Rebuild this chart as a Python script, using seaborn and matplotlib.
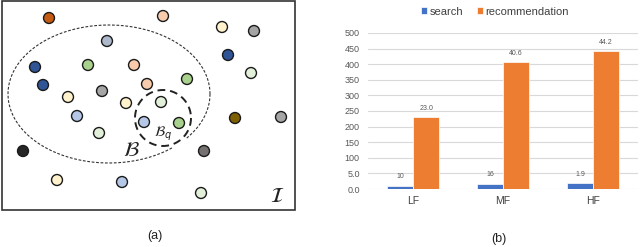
import numpy as np
import pandas as pd
import matplotlib
matplotlib.use("Agg")
import matplotlib.pyplot as plt
from matplotlib.patches import Rectangle
import seaborn as sns

# ---- panel (a): item points (pixel coords of the diagram) ----
point_x = [49, 163, 222, 254, 107, 228, 35, 88, 134, 251, 187, 43, 147, 102,
           68, 126, 161, 77, 144, 179, 235, 281, 99, 23, 204, 57, 122, 201]
point_y = [18, 16, 27, 31, 41, 55, 67, 65, 65, 73, 79, 85, 84, 91,
           97, 103, 102, 116, 122, 123, 118, 117, 133, 151, 151, 180, 182, 193]
point_kind = ["orange", "peach", "cream", "grey", "bluegrey", "navy", "navy", "green",
              "peach", "mint", "green", "navy", "peach", "grey", "cream", "cream",
              "mint", "lightblue", "lightblue", "green", "brown", "grey", "mint",
              "black", "darkgrey", "cream", "lightblue", "mint"]
kind_colors = {
    "orange": "#C55A11", "peach": "#F8CBAD", "cream": "#FFF2CC", "grey": "#A5A5A5",
    "bluegrey": "#ADB9CA", "navy": "#2F5597", "green": "#A9D18E", "mint": "#E2F0D9",
    "lightblue": "#B4C7E7", "brown": "#7F6000", "black": "#262626", "darkgrey": "#767171",
}

# ---- panel (b): bar chart ----
categories = ["LF", "MF", "HF"]
search_vals = [1.0, 1.6, 1.9]
rec_vals = [23.0, 40.6, 44.2]
search_labels = ["10", "16", "1.9"]
rec_labels = ["23.0", "40.6", "44.2"]
ytick_vals = [0, 5, 10, 15, 20, 25, 30, 35, 40, 45, 50]
ytick_labels = ["0.0", "5.0", "100", "150", "200", "250", "300", "350", "400", "450", "500"]

sns.set_style("white")
plt.rcParams["font.family"] = ["Liberation Sans", "DejaVu Sans"]

fig = plt.figure(figsize=(6.4, 2.47), dpi=100)

# panel (a)
ax_a = fig.add_axes([0, 0, 300 / 640, 1])
ax_a.set_xlim(0, 300)
ax_a.set_ylim(247, 0)
ax_a.axis("off")
ax_a.add_patch(Rectangle((2, 1.5), 293, 208.5, fill=False, edgecolor="#333333", lw=1.2))

# big dashed region B, skipping the part that runs into B_q
t = np.linspace(0, 2 * np.pi, 400)
ex = 109 + 101 * np.cos(t)
ey = 94 + 69 * np.sin(t)
far = np.hypot(ex - 163, ey - 118) > 31
ex = np.where(far, ex, np.nan)
ey = np.where(far, ey, np.nan)
ax_a.plot(ex, ey, color="#333333", lw=0.8, ls=(0, (2.5, 1.5)))

# small dashed region B_q
ts = np.linspace(0, 2 * np.pi, 200)
ax_a.plot(163 + 28 * np.cos(ts), 118 + 28 * np.sin(ts), color="#222222",
          lw=1.4, ls=(0, (4, 2.5)))

pts = pd.DataFrame({"x": point_x, "y": point_y, "kind": point_kind})
sns.scatterplot(data=pts, x="x", y="y", hue="kind", palette=kind_colors, s=62,
                edgecolor="#1a1a1a", linewidth=1.0, legend=False, ax=ax_a, zorder=3)
ax_a.set_xlabel("")
ax_a.set_ylabel("")

ax_a.text(131, 150, r"$\mathcal{B}$", fontsize=15, ha="center", va="center", color="#222222")
ax_a.text(163, 134, r"$\mathcal{B}_q$", fontsize=10, ha="center", va="center", color="#222222")
ax_a.text(277, 196, r"$\mathcal{I}$", fontsize=15, ha="center", va="center", color="#222222")
ax_a.text(155, 236, "(a)", fontsize=9, ha="center", va="center", color="#222222")

# panel (b)
ax_b = fig.add_axes([368 / 640, (247 - 189) / 247, 270 / 640, (189 - 33) / 247])
df = pd.DataFrame({
    "category": categories * 2,
    "value": search_vals + rec_vals,
    "series": ["search"] * 3 + ["recommendation"] * 3,
})
sns.barplot(data=df, x="category", y="value", hue="series",
            palette={"search": "#4472C4", "recommendation": "#ED7D31"},
            saturation=1, width=0.58, edgecolor="white", linewidth=0.5,
            ax=ax_b, zorder=3)
ax_b.set_ylim(0, 50)
ax_b.set_xlim(-0.5, 2.5)
ax_b.set_yticks(ytick_vals)
ax_b.set_yticklabels(ytick_labels)
ax_b.yaxis.grid(True, color="#D9D9D9", lw=0.8)
ax_b.set_axisbelow(True)
sns.despine(ax=ax_b, left=True, bottom=True)
ax_b.tick_params(axis="y", length=0, labelsize=6.5, labelcolor="#595959", pad=6)
ax_b.tick_params(axis="x", length=0, labelsize=7.5, labelcolor="#404040", pad=5)
ax_b.set_xlabel("")
ax_b.set_ylabel("")

ax_b.bar_label(ax_b.containers[0], labels=search_labels, fontsize=5, color="#595959", padding=4)
ax_b.bar_label(ax_b.containers[1], labels=rec_labels, fontsize=5, color="#595959", padding=4)

handles, labels = ax_b.get_legend_handles_labels()
ax_b.legend(handles, labels, loc="lower center", bbox_to_anchor=(0.47, 1.04), ncol=2,
            frameon=False, fontsize=8, handlelength=0.6, handleheight=0.6,
            handletextpad=0.2, columnspacing=1.2, labelcolor="#404040")

fig.text(499 / 640, 1 - 239 / 247, "(b)", fontsize=9, ha="center", va="center", color="#222222")

fig.savefig("out.png", dpi=100)
